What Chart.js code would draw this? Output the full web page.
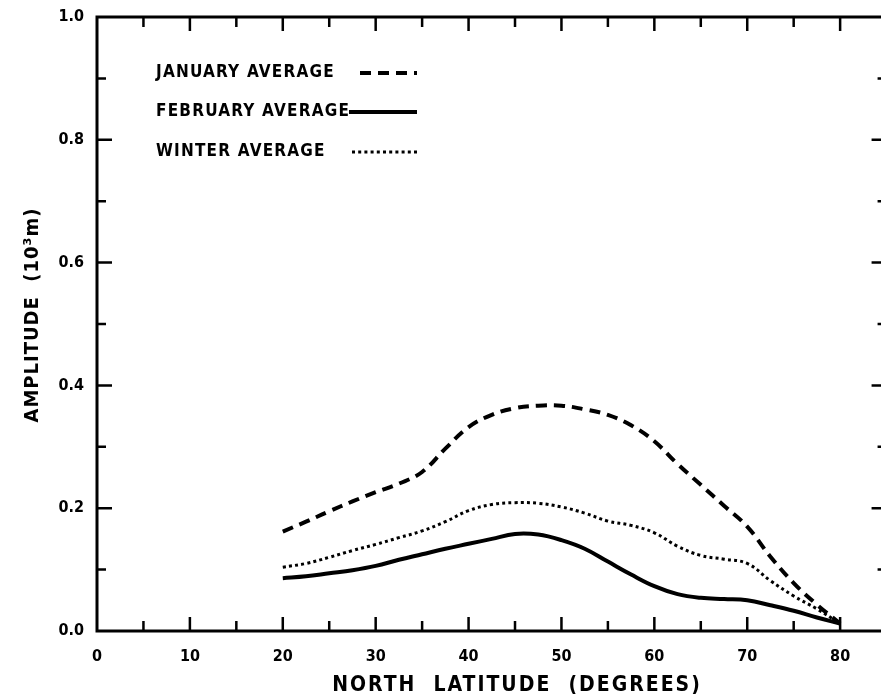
<!DOCTYPE html>
<html>
<head>
<meta charset="utf-8">
<script src="https://cdn.jsdelivr.net/npm/chart.js@4.4.1/dist/chart.umd.min.js"></script>
<style>
  html, body { margin: 0; padding: 0; background: #fff; }
  #wrap { width: 881px; height: 700px; }
</style>
</head>
<body>
<div id="wrap"><canvas id="amp-chart" width="881" height="700"></canvas></div>
<script>
// latitude (deg N) and amplitude (10^3 m)
const latitude = [20, 22.5, 25, 27.5, 30, 32.5, 35, 37.5, 40, 42.5, 45, 47.5, 50,
                  52.5, 55, 57.5, 60, 62.5, 65, 67.5, 70, 72.5, 75, 77.5, 80];
const januaryAvg = [0.162, 0.178, 0.195, 0.211, 0.226, 0.240, 0.259, 0.297, 0.332, 0.352,
                    0.363, 0.367, 0.367, 0.361, 0.352, 0.335, 0.309, 0.272, 0.238, 0.204,
                    0.170, 0.121, 0.078, 0.043, 0.012];
const februaryAvg = [0.086, 0.089, 0.094, 0.099, 0.106, 0.116, 0.125, 0.134, 0.142, 0.150,
                     0.158, 0.157, 0.148, 0.134, 0.113, 0.092, 0.073, 0.060, 0.054, 0.052,
                     0.050, 0.042, 0.033, 0.022, 0.012];
const winterAvg = [0.104, 0.110, 0.120, 0.131, 0.141, 0.152, 0.163, 0.178, 0.196, 0.206,
                   0.209, 0.208, 0.202, 0.192, 0.179, 0.172, 0.160, 0.138, 0.123, 0.117,
                   0.110, 0.082, 0.057, 0.036, 0.012];

const xTicks = [0, 10, 20, 30, 40, 50, 60, 70, 80];
const yTicks = [0, 0.2, 0.4, 0.6, 0.8, 1.0];
const yTickLabels = ['0.0', '0.2', '0.4', '0.6', '0.8', '1.0'];
const seriesNames = ['JANUARY AVERAGE', 'FEBRUARY AVERAGE', 'WINTER AVERAGE'];

const FONT = "'DejaVu Sans Condensed', 'DejaVu Sans', sans-serif";
const DASH = [11, 7];
const DOT = [3, 3.2];

function points(ys) {
  return latitude.map((x, i) => ({ x: x, y: ys[i] }));
}

// frame, inward ticks, legend and axis titles
const framePlugin = {
  id: 'frame',
  afterDraw(chart) {
    const { ctx, chartArea: a, scales: { x, y } } = chart;
    // the frame runs on to 85 deg, just past the canvas edge
    const right = x.getPixelForValue(85);
    ctx.save();
    ctx.strokeStyle = '#000';
    ctx.lineCap = 'butt';

    ctx.lineWidth = 3;
    ctx.strokeRect(a.left, a.top, right - a.left, a.bottom - a.top);

    ctx.lineWidth = 2.5;
    for (let v = 5; v < 85; v += 5) {
      const px = x.getPixelForValue(v);
      const len = v % 10 === 0 ? 14 : 10;
      ctx.beginPath();
      ctx.moveTo(px, a.bottom); ctx.lineTo(px, a.bottom - len);
      ctx.moveTo(px, a.top); ctx.lineTo(px, a.top + len);
      ctx.stroke();
    }
    for (let i = 1; i < 10; i++) {
      const py = y.getPixelForValue(i / 10);
      const len = i % 2 === 0 ? 15 : 9;
      ctx.beginPath();
      ctx.moveTo(a.left, py); ctx.lineTo(a.left + len, py);
      ctx.moveTo(right, py); ctx.lineTo(right - len, py);
      ctx.stroke();
    }

    // legend
    ctx.fillStyle = '#000';
    ctx.font = 'bold 17px ' + FONT;
    ctx.textBaseline = 'middle';
    ctx.letterSpacing = '1.2px';
    const rows = [
      { y: 73, dash: DASH, w: 4, x0: 360 },
      { y: 112, dash: [], w: 4, x0: 349 },
      { y: 152, dash: DOT, w: 3, x0: 352 }
    ];
    rows.forEach((r, i) => {
      ctx.fillText(seriesNames[i], 156, r.y);
      ctx.lineWidth = r.w;
      ctx.setLineDash(r.dash);
      ctx.beginPath();
      ctx.moveTo(r.x0, r.y); ctx.lineTo(417, r.y);
      ctx.stroke();
    });
    ctx.setLineDash([]);

    // axis titles
    ctx.font = 'bold 21px ' + FONT;
    ctx.letterSpacing = '2px';
    ctx.textAlign = 'center';
    ctx.fillText('NORTH  LATITUDE  (DEGREES)', 517, 686);

    ctx.translate(33, 315);
    ctx.rotate(-Math.PI / 2);
    ctx.font = 'bold 20px ' + FONT;
    ctx.letterSpacing = '1px';
    ctx.fillText('AMPLITUDE  (10³m)', 0, 0);
    ctx.restore();
  }
};

new Chart(document.getElementById('amp-chart').getContext('2d'), {
  type: 'line',
  data: {
    datasets: [
      { label: seriesNames[0], data: points(januaryAvg), borderDash: DASH, borderWidth: 4 },
      { label: seriesNames[1], data: points(februaryAvg), borderWidth: 4 },
      { label: seriesNames[2], data: points(winterAvg), borderDash: DOT, borderWidth: 3 }
    ]
  },
  options: {
    responsive: false,
    animation: false,
    layout: { padding: { top: 17, right: 0, left: 0, bottom: 0 } },
    elements: {
      line: { borderColor: '#000', fill: false, tension: 0.4 },
      point: { radius: 0 }
    },
    plugins: { legend: { display: false }, tooltip: { enabled: false } },
    scales: {
      x: {
        type: 'linear', min: 0, max: 84.4,
        grid: { display: false }, border: { display: false },
        afterBuildTicks(s) { s.ticks = xTicks.map(v => ({ value: v })); },
        afterFit(s) { s.height = 69; },
        ticks: { color: '#000', padding: 8, maxRotation: 0, font: { family: FONT, size: 16, weight: 'bold' } }
      },
      y: {
        type: 'linear', min: 0, max: 1,
        grid: { display: false }, border: { display: false },
        afterBuildTicks(s) { s.ticks = yTicks.map(v => ({ value: v })); },
        afterFit(s) { s.width = 97; },
        ticks: {
          color: '#000', padding: 5,
          font: { family: FONT, size: 16, weight: 'bold' },
          callback: (v, i) => yTickLabels[i]
        }
      }
    }
  },
  plugins: [framePlugin]
});
</script>
</body>
</html>
